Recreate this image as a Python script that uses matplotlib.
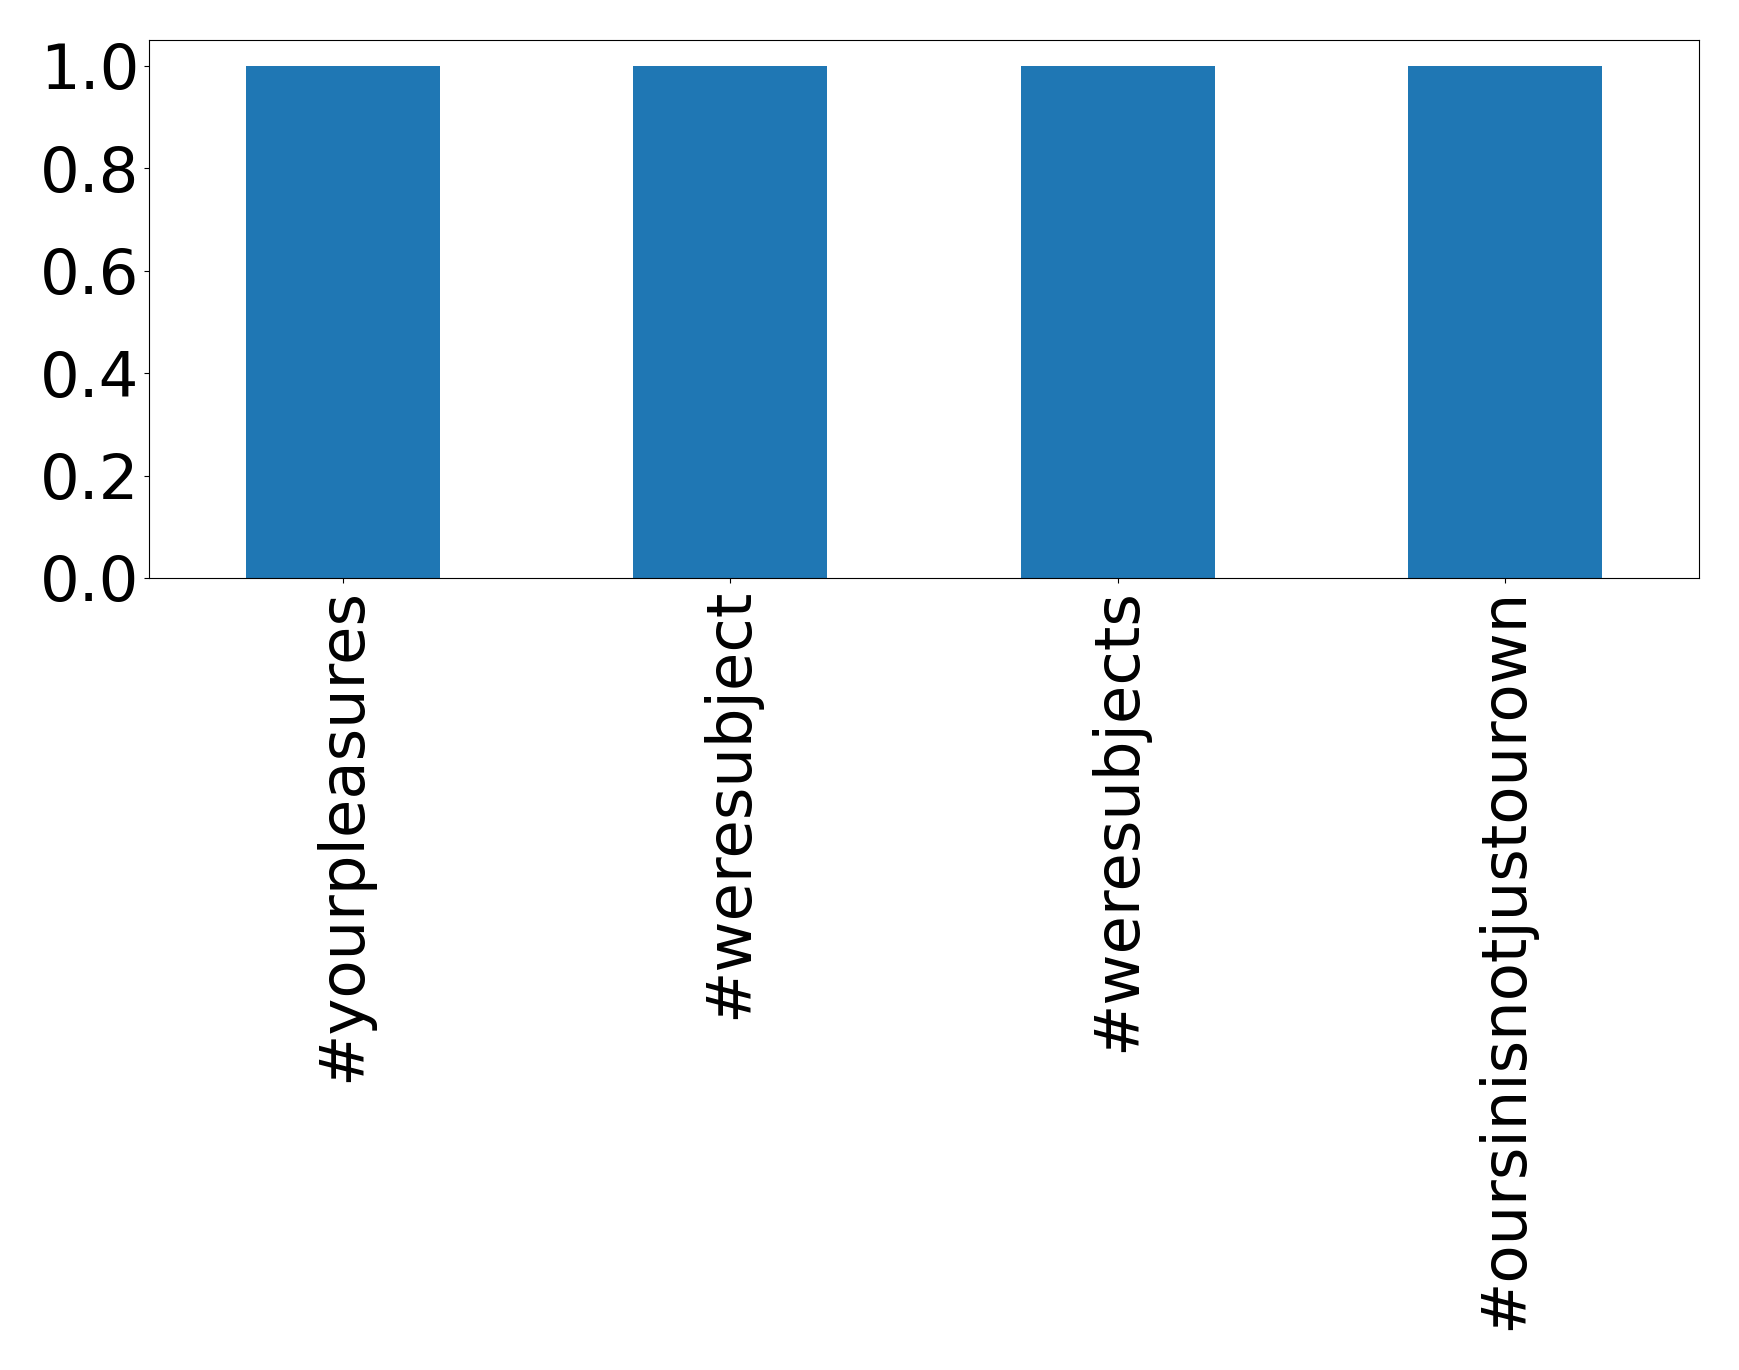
import pandas as pd
import matplotlib
matplotlib.use('Agg')
import matplotlib.pyplot as plt

# hashtag counts
hashtags = ['#yourpleasures', '#weresubject', '#weresubjects', '#oursinisnotjustourown']
counts = [1, 1, 1, 1]

s = pd.Series(counts, index=hashtags)

fig = plt.figure(figsize=(17.39, 13.7), dpi=100)
ax = fig.add_axes([149 / 1739, 1 - 578 / 1370, (1699 - 149) / 1739, (578 - 40) / 1370])
s.plot(kind='bar', ax=ax, color='#1f77b4', fontsize=45)
ax.tick_params(axis='x', labelrotation=90)

fig.savefig('out.png', dpi=100)
